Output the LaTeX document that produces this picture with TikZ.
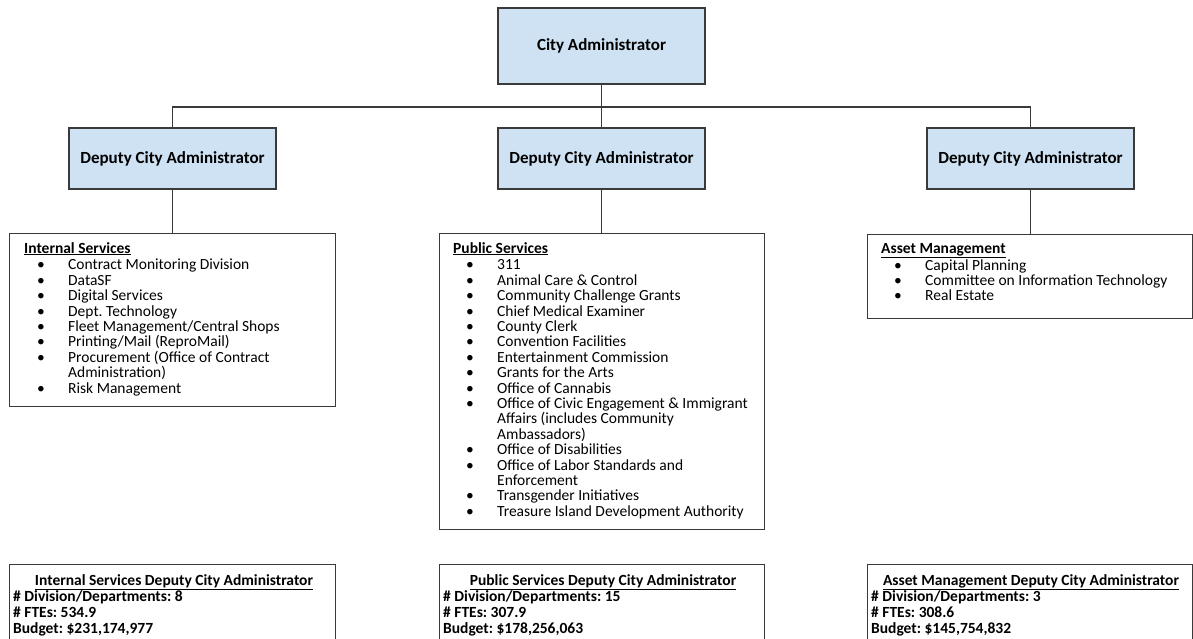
\documentclass[tikz,border=0pt]{standalone}
\usepackage{fontspec}
\setmainfont{Carlito}
\definecolor{boxblue}{HTML}{CFE2F3}
\definecolor{edge}{HTML}{3A3A3A}
\newcommand\itm[1]{\hspace*{13pt}\makebox[31pt][l]{\textbullet}#1}
\newcommand\cnt[1]{\hspace*{44pt}#1}
\frenchspacing
\begin{document}
\begin{tikzpicture}[x=1pt,y=-1pt,
  every node/.style={font=\fontsize{15.5}{15.4}\selectfont},
  headbox/.style={draw=edge,line width=1.1pt,fill=boxblue,minimum width=207pt,minimum height=61pt,inner sep=0pt,font=\fontsize{17}{18}\selectfont\bfseries},
  listbox/.style={draw=edge,line width=1.1pt,fill=white,inner sep=0pt,anchor=north west},
  listtext/.style={anchor=north west,inner sep=0pt,align=left},
  sumhead/.style={anchor=north,inner sep=0pt,font=\fontsize{15.5}{16}\selectfont\bfseries},
  sumtext/.style={anchor=north west,inner sep=0pt,align=left,font=\fontsize{15.5}{16}\selectfont\bfseries},
  conn/.style={draw=edge,line width=1.1pt}]
\useasboundingbox[fill=white] (0,0) rectangle (1193,638);

% top
\node[headbox,minimum height=76pt] (ca) at (601.5,46) {City Administrator};
\node[headbox] (dl) at (172.5,158.5) {Deputy City Administrator};
\node[headbox] (dm) at (601.5,158.5) {Deputy City Administrator};
\node[headbox] (dr) at (1030.5,158.5) {Deputy City Administrator};
\coordinate (hub) at (601.5,107);

% list boxes
\node[listbox,minimum width=326pt,minimum height=173pt] (is) at (9,233) {};
\node[listbox,minimum width=325pt,minimum height=296pt] (ps) at (439,233) {};
\node[listbox,minimum width=325pt,minimum height=84pt] (am) at (867,234) {};

\node[listtext] (isT) at (24,242) {\textbf{\underline{Internal Services}}\\[1.5pt]
\itm{Contract Monitoring Division}\\
\itm{DataSF}\\
\itm{Digital Services}\\
\itm{Dept. Technology}\\
\itm{Fleet Management/Central Shops}\\
\itm{Printing/Mail (ReproMail)}\\
\itm{Procurement (Office of Contract}\\
\cnt{Administration)}\\
\itm{Risk Management}};

\node[listtext] (psT) at (453,242) {\textbf{\underline{Public Services}}\\[1.5pt]
\itm{311}\\
\itm{Animal Care \& Control}\\
\itm{Community Challenge Grants}\\
\itm{Chief Medical Examiner}\\
\itm{County Clerk}\\
\itm{Convention Facilities}\\
\itm{Entertainment Commission}\\
\itm{Grants for the Arts}\\
\itm{Office of Cannabis}\\
\itm{Office of Civic Engagement \& Immigrant}\\
\cnt{Affairs (includes Community}\\
\cnt{Ambassadors)}\\
\itm{Office of Disabilities}\\
\itm{Office of Labor Standards and}\\
\cnt{Enforcement}\\
\itm{Transgender Initiatives}\\
\itm{Treasure Island Development Authority}};

\node[listtext] (amT) at (881,243) {\textbf{\underline{Asset Management}}\\[1.5pt]
\itm{Capital Planning}\\
\itm{Committee on Information Technology}\\
\itm{Real Estate}};

% bottom summary boxes
\node[listbox,minimum width=326pt,minimum height=90pt] (bl) at (9,564) {};
\node[listbox,minimum width=325pt,minimum height=90pt] (bm) at (439,564) {};
\node[listbox,minimum width=325pt,minimum height=90pt] (br) at (867,564) {};

\node[sumhead] (blH) at (174,574) {\underline{Internal Services Deputy City Administrator}};
\node[sumtext] (blT) at (13,590) {\# Division/Departments: 8\\ \# FTEs: 534.9\\ Budget: \$231,174,977};
\node[sumhead] (bmH) at (603,574) {\underline{Public Services Deputy City Administrator}};
\node[sumtext] (bmT) at (443,590) {\# Division/Departments: 15\\ \# FTEs: 307.9\\ Budget: \$178,256,063};
\node[sumhead] (brH) at (1031,574) {\underline{Asset Management Deputy City Administrator}};
\node[sumtext] (brT) at (871,590) {\# Division/Departments: 3\\ \# FTEs: 308.6\\ Budget: \$145,754,832};

% connectors
\draw[conn] (ca.south) -- (dm.north);
\draw[conn] (dl.north) |- (hub) -| (dr.north);
\draw[conn] (dl.south) -- (is.north -| dl.south);
\draw[conn] (dm.south) -- (ps.north -| dm.south);
\draw[conn] (dr.south) -- (am.north -| dr.south);
\end{tikzpicture}
\end{document}
